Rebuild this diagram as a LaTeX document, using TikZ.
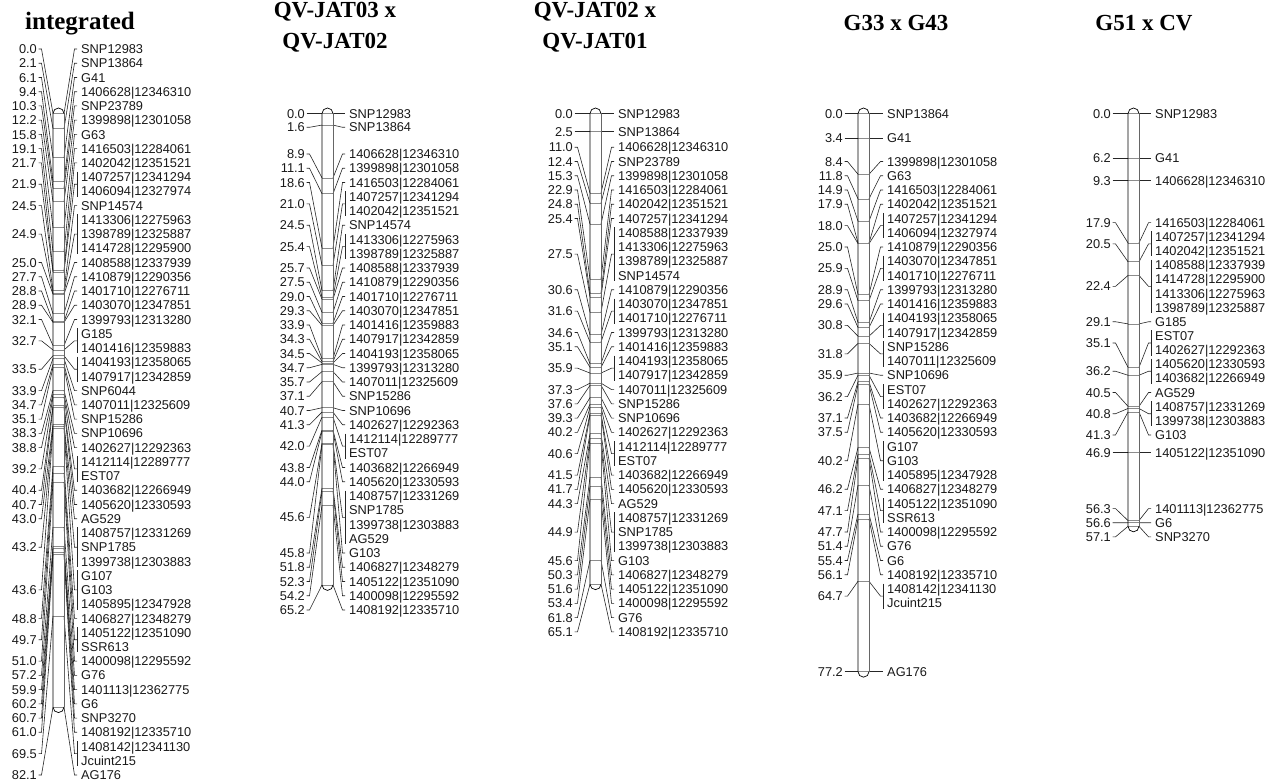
\documentclass[tikz,border=0pt]{standalone}
\usepackage{fontspec}
\setmainfont{Liberation Sans}
\newfontfamily\serifb{Liberation Serif}
\newcounter{lbl}
\tikzset{
  conn/.style={draw=black!85,line width=0.6pt},
  tickl/.style={draw=black!45,line width=0.6pt},
  numl/.style={anchor=base east,inner sep=0pt,yshift=-4.6pt,font=\fontsize{12.8}{14}\selectfont,text=black!90},
  mrk/.style={anchor=base west,inner sep=0pt,yshift=-4.6pt,font=\fontsize{12.8}{14}\selectfont,text=black!90},
  ttl/.style={anchor=base,inner sep=0pt,font=\serifb\bfseries\fontsize{23}{26}\selectfont}
}
\def\yzero{113.5}
\def\sc{7.23}
% generic locus: #1 cM, #2 y of first label row, #3 number of names, #4 names
\newcommand\locusY[4]{%
  \pgfmathsetmacro\yf{#2}%
  \pgfmathsetmacro\yc{\yf+(#3-1)*\rs/2}%
  \pgfmathsetmacro\yb{\yzero+#1*\sc}%
  \draw[conn] (\xn+1.5,\yc) -- (\xn+4.5,\yc) -- (\xl,\yb);
  \draw[tickl] (\xl,\yb) -- (\xr,\yb);
  \draw[conn] (\xr,\yb) -- (\xt-6.5,\yc) -- (\xt-4,\yc);
  \ifnum#3>1 \draw[conn] (\xt-4,\yf-5.5) -- (\xt-4,\yf+#3*\rs-\rs+5.5);\fi
  \stepcounter{lbl}%
  \node[numl] (N\arabic{lbl}) at (\xn,\yc) {#1};
  \foreach \nm [count=\k from 0] in {#4} {\node[mrk] (M\arabic{lbl}-\k) at (\xt,\yf+\k*\rs) {\nm};}
}
\newcommand\locus[4]{\pgfmathsetmacro\yff{\yz+(#2)*\rs}\locusY{#1}{\yff}{#3}{#4}}
\newcommand\locusS[2]{\pgfmathsetmacro\yff{\yzero+#1*\sc}\locusY{#1}{\yff}{1}{#2}}
\newcommand\chrbar[1]{%
  \pgfmathsetmacro\ybot{\yzero+#1*\sc}%
  \pgfmathsetmacro\rr{(\xr-\xl)/2}%
  \fill[white] (\xl,\ybot) -- (\xl,\yzero) arc[start angle=180,end angle=0,radius=\rr pt] -- (\xr,\ybot) arc[start angle=0,end angle=-180,radius=\rr pt] -- cycle;
}
\newcommand\chredge[1]{%
  \pgfmathsetmacro\ybot{\yzero+#1*\sc}%
  \pgfmathsetmacro\rr{(\xr-\xl)/2}%
  \draw[black!60,line width=0.7pt] (\xr,\yzero) -- (\xr,\ybot);
  \draw[black,line width=0.7pt] (\xr,\ybot) arc[start angle=0,end angle=-180,radius=\rr pt] -- (\xl,\yzero) arc[start angle=180,end angle=0,radius=\rr pt];
}
\newcommand\setcol[4]{\def\xn{#1}\def\xl{#2}\def\xr{#3}\def\xt{#4}}
\begin{document}
\begin{tikzpicture}[x=1pt,y=-1pt]
\useasboundingbox[fill=white] (0,0) rectangle (1271,783);
% titles
\node[ttl,font=\serifb\bfseries\fontsize{25}{28}\selectfont] (t1) at (80,29.5) {integrated};
\node[ttl] (t2a) at (335,18) {QV-JAT03 x};
\node[ttl] (t2b) at (335,49) {QV-JAT02};
\node[ttl] (t3a) at (595,18) {QV-JAT02 x};
\node[ttl] (t3b) at (595,49) {QV-JAT01};
\node[ttl] (t4) at (896,31) {G33 x G43};
\node[ttl] (t5) at (1144,31) {G51 x CV};

% ---------- column 1: integrated
\setcol{37}{53}{64}{81}
\def\yz{49}\def\rs{14.235}
\chrbar{82.1}
\locus{0.0}{0}{1}{SNP12983}
\locus{2.1}{1}{1}{SNP13864}
\locus{6.1}{2}{1}{G41}
\locus{9.4}{3}{1}{1406628|12346310}
\locus{10.3}{4}{1}{SNP23789}
\locus{12.2}{5}{1}{1399898|12301058}
\locus{15.8}{6}{1}{G63}
\locus{19.1}{7}{1}{1416503|12284061}
\locus{21.7}{8}{1}{1402042|12351521}
\locus{21.9}{9}{2}{1407257|12341294,1406094|12327974}
\locus{24.5}{11}{1}{SNP14574}
\locus{24.9}{12}{3}{1413306|12275963,1398789|12325887,1414728|12295900}
\locus{25.0}{15}{1}{1408588|12337939}
\locus{27.7}{16}{1}{1410879|12290356}
\locus{28.8}{17}{1}{1401710|12276711}
\locus{28.9}{18}{1}{1403070|12347851}
\locus{32.1}{19}{1}{1399793|12313280}
\locus{32.7}{20}{2}{G185,1401416|12359883}
\locus{33.5}{22}{2}{1404193|12358065,1407917|12342859}
\locus{33.9}{24}{1}{SNP6044}
\locus{34.7}{25}{1}{1407011|12325609}
\locus{35.1}{26}{1}{SNP15286}
\locus{38.3}{27}{1}{SNP10696}
\locus{38.8}{28}{1}{1402627|12292363}
\locus{39.2}{29}{2}{1412114|12289777,EST07}
\locus{40.4}{31}{1}{1403682|12266949}
\locus{40.7}{32}{1}{1405620|12330593}
\locus{43.0}{33}{1}{AG529}
\locus{43.2}{34}{3}{1408757|12331269,SNP1785,1399738|12303883}
\locus{43.6}{37}{3}{G107,G103,1405895|12347928}
\locus{48.8}{40}{1}{1406827|12348279}
\locus{49.7}{41}{2}{1405122|12351090,SSR613}
\locus{51.0}{43}{1}{1400098|12295592}
\locus{57.2}{44}{1}{G76}
\locus{59.9}{45}{1}{1401113|12362775}
\locus{60.2}{46}{1}{G6}
\locus{60.7}{47}{1}{SNP3270}
\locus{61.0}{48}{1}{1408192|12335710}
\locus{69.5}{49}{2}{1408142|12341130,Jcuint215}
\locus{82.1}{51}{1}{AG176}
\chredge{82.1}

% ---------- column 2
\setcol{305}{322}{333}{349}
\def\rs{14.25}
\chrbar{65.2}
\locusS{0.0}{SNP12983}
\locusY{1.6}{127.3}{1}{SNP13864}
\def\yz{154}
\locus{8.9}{0}{1}{1406628|12346310}
\locus{11.1}{1}{1}{1399898|12301058}
\locus{18.6}{2}{1}{1416503|12284061}
\locus{21.0}{3}{2}{1407257|12341294,1402042|12351521}
\locus{24.5}{5}{1}{SNP14574}
\locus{25.4}{6}{2}{1413306|12275963,1398789|12325887}
\locus{25.7}{8}{1}{1408588|12337939}
\locus{27.5}{9}{1}{1410879|12290356}
\locus{29.0}{10}{1}{1401710|12276711}
\locus{29.3}{11}{1}{1403070|12347851}
\locus{33.9}{12}{1}{1401416|12359883}
\locus{34.3}{13}{1}{1407917|12342859}
\locus{34.5}{14}{1}{1404193|12358065}
\locus{34.7}{15}{1}{1399793|12313280}
\locus{35.7}{16}{1}{1407011|12325609}
\locus{37.1}{17}{1}{SNP15286}
\locus{40.7}{18}{1}{SNP10696}
\locus{41.3}{19}{1}{1402627|12292363}
\locus{42.0}{20}{2}{1412114|12289777,EST07}
\locus{43.8}{22}{1}{1403682|12266949}
\locus{44.0}{23}{1}{1405620|12330593}
\locus{45.6}{24}{4}{1408757|12331269,SNP1785,1399738|12303883,AG529}
\locus{45.8}{28}{1}{G103}
\locus{51.8}{29}{1}{1406827|12348279}
\locus{52.3}{30}{1}{1405122|12351090}
\locus{54.2}{31}{1}{1400098|12295592}
\locus{65.2}{32}{1}{1408192|12335710}
\chredge{65.2}

% ---------- column 3
\setcol{573}{590}{601}{618}
\def\rs{14.25}
\chrbar{65.1}
\locusS{0.0}{SNP12983}
\locusS{2.5}{SNP13864}
\def\yz{147.3}
\locus{11.0}{0}{1}{1406628|12346310}
\locus{12.4}{1}{1}{SNP23789}
\locus{15.3}{2}{1}{1399898|12301058}
\locus{22.9}{3}{1}{1416503|12284061}
\locus{24.8}{4}{1}{1402042|12351521}
\locus{25.4}{5}{1}{1407257|12341294}
\locus{27.5}{6}{4}{1408588|12337939,1413306|12275963,1398789|12325887,SNP14574}
\locus{30.6}{10}{1}{1410879|12290356}
\locus{31.6}{11}{2}{1403070|12347851,1401710|12276711}
\locus{34.6}{13}{1}{1399793|12313280}
\locus{35.1}{14}{1}{1401416|12359883}
\locus{35.9}{15}{2}{1404193|12358065,1407917|12342859}
\locus{37.3}{17}{1}{1407011|12325609}
\locus{37.6}{18}{1}{SNP15286}
\locus{39.3}{19}{1}{SNP10696}
\locus{40.2}{20}{1}{1402627|12292363}
\locus{40.6}{21}{2}{1412114|12289777,EST07}
\locus{41.5}{23}{1}{1403682|12266949}
\locus{41.7}{24}{1}{1405620|12330593}
\locus{44.3}{25}{1}{AG529}
\locus{44.9}{26}{3}{1408757|12331269,SNP1785,1399738|12303883}
\locus{45.6}{29}{1}{G103}
\locus{50.3}{30}{1}{1406827|12348279}
\locus{51.6}{31}{1}{1405122|12351090}
\locus{53.4}{32}{1}{1400098|12295592}
\locus{61.8}{33}{1}{G76}
\locus{65.1}{34}{1}{1408192|12335710}
\chredge{65.1}

% ---------- column 4
\setcol{843}{858}{869}{887}
\def\rs{14.25}
\chrbar{77.2}
\locusS{0.0}{SNP13864}
\locusS{3.4}{G41}
\def\yz{161.5}
\locus{8.4}{0}{1}{1399898|12301058}
\locus{11.8}{1}{1}{G63}
\locus{14.9}{2}{1}{1416503|12284061}
\locus{17.9}{3}{1}{1402042|12351521}
\locus{18.0}{4}{2}{1407257|12341294,1406094|12327974}
\locus{25.0}{6}{1}{1410879|12290356}
\locus{25.9}{7}{2}{1403070|12347851,1401710|12276711}
\locus{28.9}{9}{1}{1399793|12313280}
\locus{29.6}{10}{1}{1401416|12359883}
\locus{30.8}{11}{2}{1404193|12358065,1407917|12342859}
\locus{31.8}{13}{2}{SNP15286,1407011|12325609}
\locus{35.9}{15}{1}{SNP10696}
\locus{36.2}{16}{2}{EST07,1402627|12292363}
\locus{37.1}{18}{1}{1403682|12266949}
\locus{37.5}{19}{1}{1405620|12330593}
\locus{40.2}{20}{3}{G107,G103,1405895|12347928}
\locus{46.2}{23}{1}{1406827|12348279}
\locus{47.1}{24}{2}{1405122|12351090,SSR613}
\locus{47.7}{26}{1}{1400098|12295592}
\locus{51.4}{27}{1}{G76}
\locus{55.4}{28}{1}{G6}
\locus{56.1}{29}{1}{1408192|12335710}
\locus{64.7}{30}{2}{1408142|12341130,Jcuint215}
\locusS{77.2}{AG176}
\chredge{77.2}

% ---------- column 5
\setcol{1111}{1128}{1139}{1155}
\def\rs{14.15}
\chrbar{57.1}
\locusS{0.0}{SNP12983}
\locusS{6.2}{G41}
\locusS{9.3}{1406628|12346310}
\def\yz{222.7}
\locus{17.9}{0}{1}{1416503|12284061}
\locus{20.5}{1}{2}{1407257|12341294,1402042|12351521}
\locus{22.4}{3}{4}{1408588|12337939,1414728|12295900,1413306|12275963,1398789|12325887}
\locus{29.1}{7}{1}{G185}
\locus{35.1}{8}{2}{EST07,1402627|12292363}
\locus{36.2}{10}{2}{1405620|12330593,1403682|12266949}
\locus{40.5}{12}{1}{AG529}
\locus{40.8}{13}{2}{1408757|12331269,1399738|12303883}
\locus{41.3}{15}{1}{G103}
\locusS{46.9}{1405122|12351090}
\def\yz{522.7}
\locus{56.3}{-1}{1}{1401113|12362775}
\locus{56.6}{0}{1}{G6}
\locus{57.1}{1}{1}{SNP3270}
\chredge{57.1}
\end{tikzpicture}
\end{document}
